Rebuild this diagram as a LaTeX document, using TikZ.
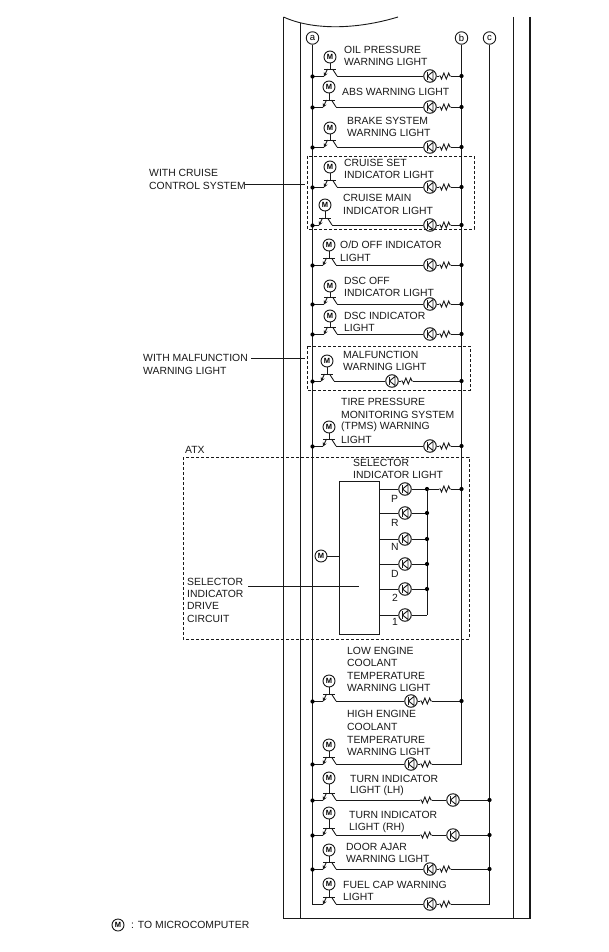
\documentclass[tikz,border=0pt]{standalone}
\usepackage{fontspec}
\usetikzlibrary{arrows.meta}
\setmainfont{Liberation Sans}
\newcommand{\rowx}[5]{%
 % id, Mx, My, busY, dot on rail a
 \node[mcirc] (m#1) at (#2,#3) {M};
 \coordinate (bl#1) at (#2-6,#4+0.5);
 \coordinate (br#1) at (#2+7,#4);
 \coordinate (ja#1) at (312.5,#4+0.5);
 \draw[wire] (#2-6,#4-7) -- (#2+6,#4-7);
 \draw[wire] (m#1) -- (#2,#4-7);
 \draw[wire,-{Stealth[length=4pt,width=4pt]}] (#2-2.5,#4-7) -- (bl#1);
 \draw[wire] (#2+2.5,#4-7) -- (br#1);
 \draw[wire] (ja#1) -- (bl#1);
 \ifnum#5=1 \node[dot] at (ja#1) {};\fi
}
\tikzset{
 wire/.style={line width=0.9pt,black!90},
 rail/.style={line width=0.9pt,black!90},
 frameline/.style={line width=1.1pt,black!90},
 dot/.style={circle,fill=black,inner sep=0pt,minimum size=4.2pt},
 mcirc/.style={circle,draw=black!90,line width=0.9pt,inner sep=0pt,minimum size=12pt,font=\fontsize{7.5}{8}\selectfont\bfseries},
 railc/.style={circle,draw=black!90,line width=0.9pt,inner sep=0pt,minimum size=12.5pt,font=\fontsize{9.5}{10}\selectfont},
 kcirc/.style={circle,draw=black!90,line width=1pt,inner sep=0pt,minimum size=12.5pt},
 lab/.style={anchor=west,inner sep=0pt,font=\fontsize{10.4}{12}\selectfont,text=black!90},
 dbox/.style={dash pattern=on 3pt off 2pt,line width=0.9pt,black!90},
 res/.style={inner sep=0pt,minimum width=12pt,minimum height=6pt},
}
\newcommand{\kled}[2]{%
 \node[kcirc] (#1) at #2 {};
 \draw[line width=0.9pt,black!90] ([xshift=-2.5pt,yshift=4pt]#1.center) -- ([xshift=-2.5pt,yshift=-4pt]#1.center);
 \draw[line width=0.9pt,black!90] ([xshift=-2.5pt]#1.center) -- ([xshift=3pt,yshift=4.5pt]#1.center) -- ([xshift=3pt,yshift=-4.5pt]#1.center) -- cycle;
}
\newcommand{\resi}[2]{%
 \node[res] (#1) at #2 {};
 \draw[line width=0.9pt,black!90] (#1.west) -- ++(1.5,0) -- ++(1.2,3) -- ++(2.4,-6) -- ++(2.4,6) -- ++(2.4,-6) -- ++(1.2,3) -- (#1.east);
}
\begin{document}
\begin{tikzpicture}[x=1pt,y=-1pt]
\useasboundingbox (0,0) rectangle (608,952);
\fill[white] (0,0) rectangle (608,952);
% frame
\draw[frameline] (283.5,17) -- (283.5,918.5) -- (530,918.5);
\draw[frameline] (300.5,23) -- (300.5,918.5);
\draw[frameline] (513.5,17) -- (513.5,918.5);
\draw[line width=1.7pt,black!90] (530,17) -- (530,918.5);
\draw[rail] (283.5,17) .. controls (312,30) and (355,30) .. (398,17);
% rails
\node[railc] (ra) at (312.5,38) {a};
\node[railc] (rb) at (461.5,38) {b};
\node[railc] (rc) at (489.5,38) {c};
\coordinate (aend) at (312.5,904.5);
\coordinate (bend) at (461.5,764);
\coordinate (cend) at (489.5,904);
\draw[rail] (ra) -- (aend);
\draw[rail] (rb) -- (bend);
\draw[rail] (rc) -- (cend);
% rows
\rowx{1}{330}{57}{76}{1}
\rowx{2}{329}{87}{107}{1}
\rowx{3}{330}{128}{147}{1}
\rowx{4}{330}{167}{187}{1}
\rowx{5}{325}{205}{225}{1}
\rowx{6}{329}{245}{265}{1}
\rowx{7}{330}{286}{304}{1}
\rowx{8}{330}{316}{334}{1}
\rowx{9}{327}{361}{381}{1}
\rowx{10}{329}{427}{446}{1}
\rowx{11}{329}{681}{701}{1}
\rowx{12}{329}{745}{764}{1}
\rowx{13}{329}{778}{800}{1}
\rowx{14}{329}{813}{835}{1}
\rowx{15}{329}{850}{869}{1}
\rowx{16}{329}{884}{904}{0}
% LEDs, resistors, wires
\foreach \i/\kx/\yy/\rl in {1/430/76/461.5,2/430/107/461.5,3/430/147/461.5,4/430/187/461.5,5/430/225/461.5,6/430/265/461.5,7/430/304/461.5,8/430/334/461.5,9/392/381/461.5,10/430/446/461.5,11/411/701/461.5,12/411/764/461.5,15/430/869/489.5,16/430/904/489.5}{
 \kled{k\i}{(\kx,\yy)}
 \resi{r\i}{(\kx+15,\yy)}
 \draw[wire] (br\i) -- (k\i);
 \draw[wire] (k\i) -- (r\i);
 \coordinate (e\i) at (\rl,\yy);
 \draw[wire] (r\i) -- (e\i);
}
\foreach \i in {1,2,3,4,5,6,7,8,9,10,11,15}{\node[dot] at (e\i) {};}
\foreach \i/\yy in {13/800,14/835}{
 \kled{k\i}{(453,\yy)}
 \resi{r\i}{(426,\yy)}
 \coordinate (e\i) at (489.5,\yy);
 \draw[wire] (br\i) -- (r\i);
 \draw[wire] (r\i) -- (k\i);
 \draw[wire] (k\i) -- (e\i);
 \node[dot] at (e\i) {};
}
% labels
\foreach \xx/\yy/\tx in {344/50/OIL PRESSURE,344/62/WARNING LIGHT,342/92/ABS WARNING LIGHT,347/121/BRAKE SYSTEM,347/133/WARNING LIGHT,344/163/CRUISE SET,344/175/INDICATOR LIGHT,343/198/CRUISE MAIN,343/211/INDICATOR LIGHT,340/245/O{/}D OFF INDICATOR,340/258/LIGHT,344/281/DSC OFF,344/293/INDICATOR LIGHT,344/316/DSC INDICATOR,344/328/LIGHT,343/355/MALFUNCTION,343/367/WARNING LIGHT,341/402/TIRE PRESSURE,341/415/MONITORING SYSTEM,341/427/(TPMS) WARNING,341/440/LIGHT,353/463/SELECTOR,353/475/INDICATOR LIGHT,347/651/LOW ENGINE,347/663/COOLANT,347/676/TEMPERATURE,347/688/WARNING LIGHT,347/714/HIGH ENGINE,347/727/COOLANT,347/740/TEMPERATURE,347/752/WARNING LIGHT,350/779/TURN INDICATOR,350/791/LIGHT (LH),349/815/TURN INDICATOR,349/828/LIGHT (RH),346/847/DOOR AJAR,346/859/WARNING LIGHT,343/885/FUEL CAP WARNING,343/897/LIGHT,149/173/WITH CRUISE,149/186/CONTROL SYSTEM,143/358/WITH MALFUNCTION,143/371/WARNING LIGHT,185/450/ATX,187/582/SELECTOR,187/594/INDICATOR,187/606/DRIVE,187/619/CIRCUIT,391/499/P,391/523/R,391/547/N,391/574/D,392/598/2,392/622/1,131/925/: TO MICROCOMPUTER}{
 \node[lab] at (\xx,\yy) {\tx};
}
% selector
\node[draw=black!90,line width=0.9pt,minimum width=40pt,minimum height=153pt,inner sep=0pt] (sel) at (359,557.5) {};
\node[mcirc] (ms) at (321,556) {M};
\draw[wire] (ms) -- (ms -| sel.west);
\foreach \i/\yy in {a/489,b/513,c/539,d/564,e/589,f/615}{
 \kled{s\i}{(405,\yy)}
 \coordinate (st\i) at (379,\yy);
 \coordinate (sj\i) at (427,\yy);
 \draw[wire] (st\i) -- (s\i);
 \draw[wire] (s\i) -- (sj\i);
}
\draw[wire] (sja) -- (sjf);
\foreach \i in {a,b,c,d,e}{\node[dot] at (sj\i) {};}
\resi{rs}{(445,489)}
\coordinate (sb) at (461.5,489);
\draw[wire] (sja) -- (rs);
\draw[wire] (rs) -- (sb);
\node[dot] at (sb) {};
% dashed boxes
\draw[dbox] (307,156) rectangle (474,229);
\draw[dbox] (307,346) rectangle (470,390);
\draw[dbox] (183,457) rectangle (469,639);
% leaders
\coordinate (l1a) at (245,184.5); \coordinate (l1b) at (305,184.5);
\draw[wire] (l1a) -- (l1b);
\coordinate (l2a) at (251,358.5); \coordinate (l2b) at (305,358.5);
\draw[wire] (l2a) -- (l2b);
\coordinate (l3a) at (248,586.5); \coordinate (l3b) at (359,586.5);
\draw[wire] (l3a) -- (l3b);
% legend
\node[mcirc] (leg) at (118,925) {M};
\end{tikzpicture}
\end{document}
